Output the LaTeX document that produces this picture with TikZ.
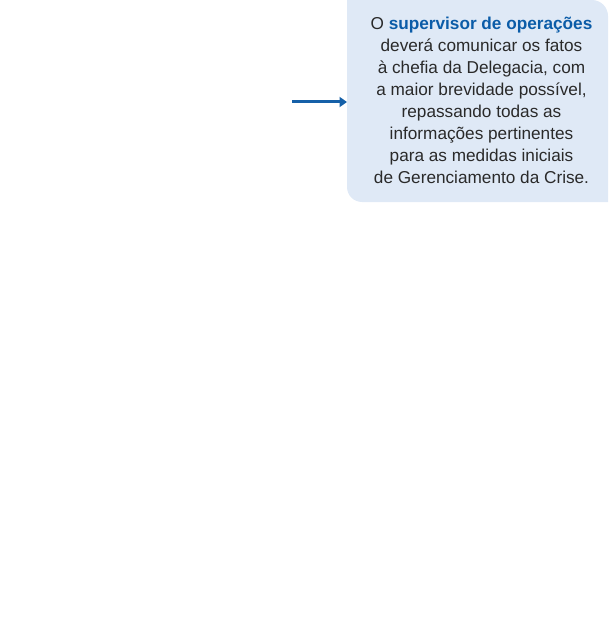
\documentclass[tikz,border=0pt]{standalone}
\usepackage{fontspec}
\setmainfont{Liberation Sans}
\usetikzlibrary{arrows.meta}
\definecolor{boxfill}{HTML}{DFE9F6}
\definecolor{txtgray}{HTML}{2A2A2A}
\definecolor{hiblue}{HTML}{0B5CA8}
\definecolor{arrowblue}{HTML}{1560A8}
\tikzset{
  boxtext/.style={align=center, text=txtgray, inner sep=0pt, font=\fontsize{17.2}{22}\selectfont},
  flowarrow/.style={draw=arrowblue, line width=3pt, -{Triangle[length=7.5pt,width=10pt]}}
}
\begin{document}
\begin{tikzpicture}[x=1pt,y=-1pt]
\useasboundingbox (0,0) rectangle (608,623);
\fill[boxfill] (347,0) -- (592,0) .. controls (600.8,0) and (608,7.2) .. (608,16) -- (608,202) -- (362,202) .. controls (353.7,202) and (347,195.3) .. (347,187) -- cycle;
\node[minimum width=261pt, minimum height=202pt, inner sep=0pt, anchor=north west] (box) at (347,0) {};
\node[boxtext, anchor=north] (txt) at (481.5,16.5) {O \textbf{\textcolor{hiblue}{supervisor de operações}}\\
deverá comunicar os fatos\\
à chefia da Delegacia, com\\
a maior brevidade possível,\\
repassando todas as\\
informações pertinentes\\
para as medidas iniciais\\
de Gerenciamento da Crise.};
\coordinate (start) at (292,102);
\draw[flowarrow] (start) -- (start -| box.west);
\end{tikzpicture}
\end{document}
